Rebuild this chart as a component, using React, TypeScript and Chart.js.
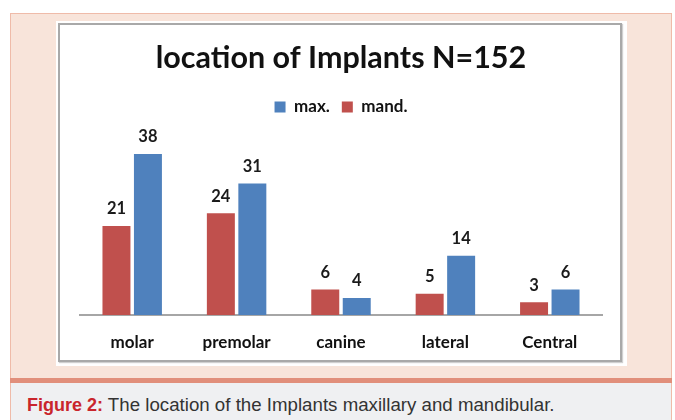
import React, { useEffect, useRef } from "react";
import { Chart, registerables } from "chart.js";

Chart.register(...registerables);

const categories = ["molar", "premolar", "canine", "lateral", "Central"];
const mandValues = [21, 24, 6, 5, 3];
const maxValues = [38, 31, 4, 14, 6];
const seriesNames = ["mand.", "max."];
const seriesColors = ["#c0504d", "#4f81bd"];
const titleText = "location of Implants N=152";
const captionLabel = "Figure 2:";
const captionText = " The location of the Implants maxillary and mandibular.";

const FONT = "Lato, 'Open Sans', sans-serif";

const valueLabels = {
  id: "valueLabels",
  afterDatasetsDraw(chart: any) {
    const ctx = chart.ctx;
    ctx.save();
    ctx.font = `bold 16.5px ${FONT}`;
    ctx.fillStyle = "#1a1a1a";
    ctx.textAlign = "center";
    ctx.textBaseline = "middle";
    chart.data.datasets.forEach((ds: any, i: number) => {
      const meta = chart.getDatasetMeta(i);
      meta.data.forEach((bar: any, j: number) => {
        ctx.fillText(String(ds.data[j]), bar.x, bar.y - 17);
      });
    });
    ctx.restore();
  },
};

function BarChart() {
  const ref = useRef<HTMLCanvasElement | null>(null);
  useEffect(() => {
    if (!ref.current) return;
    const chart = new Chart(ref.current, {
      type: "bar",
      data: {
        labels: categories,
        datasets: [
          {
            label: seriesNames[0],
            data: mandValues,
            backgroundColor: seriesColors[0],
            categoryPercentage: 0.603,
            barPercentage: 0.889,
          },
          {
            label: seriesNames[1],
            data: maxValues,
            backgroundColor: seriesColors[1],
            categoryPercentage: 0.603,
            barPercentage: 0.889,
          },
        ],
      },
      options: {
        animation: false,
        responsive: false,
        maintainAspectRatio: false,
        layout: { padding: { left: 20, right: 18, top: 0, bottom: 0 } },
        plugins: {
          title: {
            display: true,
            text: titleText,
            color: "#111",
            font: { family: FONT, size: 30.5, weight: "bold", lineHeight: 1.2 },
            padding: { top: 14.7, bottom: 10.2 },
          },
          legend: {
            display: true,
            reverse: true,
            labels: {
              boxWidth: 11,
              boxHeight: 11,
              padding: 12,
              color: "#111",
              font: { family: FONT, size: 17, weight: "bold" },
            },
          },
          tooltip: { enabled: false },
        },
        scales: {
          x: {
            grid: { display: false, drawTicks: false },
            border: { display: true, color: "#a6a6a6", width: 2 },
            ticks: {
              color: "#111",
              padding: 17,
              font: { family: FONT, size: 17, weight: "bold" },
            },
            afterFit: (scale: any) => {
              scale.height = 45;
            },
          },
          y: {
            display: false,
            min: 0,
            max: 44.7,
          },
        },
      },
      plugins: [valueLabels],
    });
    return () => chart.destroy();
  }, []);
  return <canvas ref={ref} width={560} height={335} style={{ position: "absolute", left: 60, top: 25, width: 560, height: 335 }} />;
}

export default function App() {
  return (
    <div style={{ position: "absolute", left: 0, top: 0, width: 675, height: 420, overflow: "hidden", background: "#ffffff" }}>
      <div style={{ position: "absolute", left: 10, top: 13, width: 660, height: 365, background: "#f8e4da", borderLeft: "1px solid #efbba9", borderTop: "1px solid #efbba9", borderRight: "1px solid #efbba9" }} />
      <div style={{ position: "absolute", left: 10, top: 378, width: 662, height: 5, background: "#e18f7b" }} />
      <div style={{ position: "absolute", left: 10, top: 383, width: 660, height: 37, background: "#eff0f2", borderLeft: "1px solid #efbba9", borderRight: "1px solid #efbba9" }} />
      <div style={{ position: "absolute", left: 56, top: 21, width: 571, height: 345, background: "#ffffff" }} />
      <div style={{ position: "absolute", left: 58, top: 23, width: 560, height: 335, border: "2px solid #a9a9a9", boxShadow: "1px 1px 1px #d0d0d0" }} />
      <BarChart />
      <div style={{ position: "absolute", left: 27, top: 394, fontFamily: "'Liberation Sans', Arial, sans-serif", fontSize: 18, lineHeight: "22px", whiteSpace: "nowrap", color: "#333333" }}>
        <span style={{ color: "#c9252c", fontWeight: "bold" }}>{captionLabel}</span>
        <span style={{ fontSize: 18.7 }}>{captionText}</span>
      </div>
    </div>
  );
}
